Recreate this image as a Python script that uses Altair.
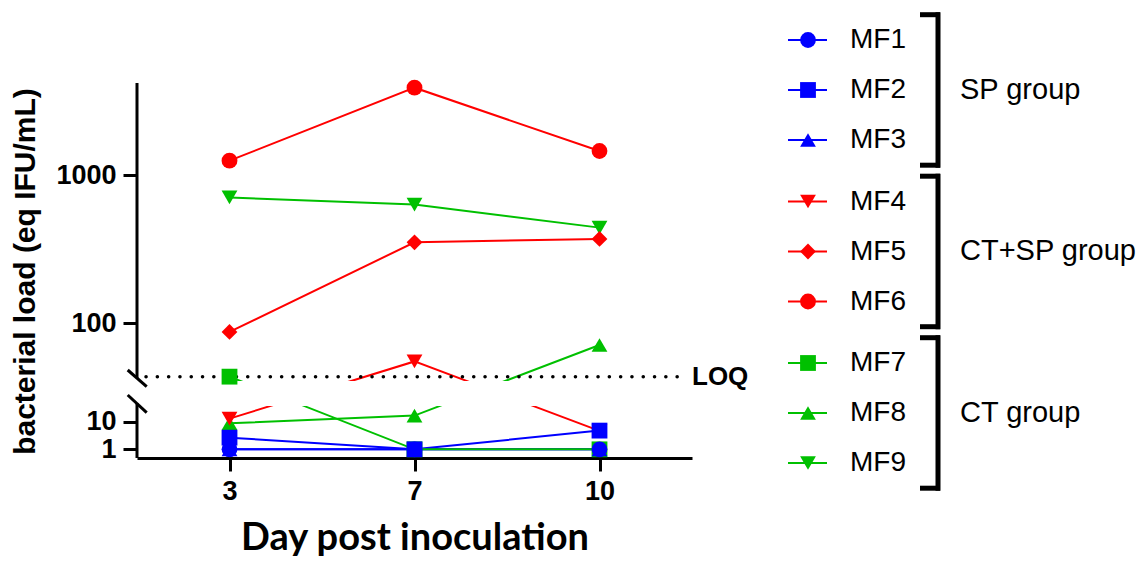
import altair as alt
import pandas as pd

# ---------------- data ----------------
series = ["MF1", "MF2", "MF3", "MF4", "MF5", "MF6", "MF7", "MF8", "MF9"]
groups = ["SP group", "CT+SP group", "CT group"]
days = [3, 7, 10]

mf1 = [1, 1, 1]
mf2 = [4.8, 1, 7.1]
mf3 = [1, 1, 1]
mf4 = [11.0, 55.0, 7.0]
mf5 = [87, 351, 370]
mf6 = [1250, 3890, 1452]
mf7 = [43.4, 1, 1]
mf8 = [9.5, 12.0, 71]
mf9 = [705, 631, 441]
values = [mf1, mf2, mf3, mf4, mf5, mf6, mf7, mf8, mf9]

loq_value = 43.4
y_tick_values = [1, 10, 100, 1000]

# ---------------- styles ----------------
colors = ["#0000FF", "#0000FF", "#0000FF", "#FF0000", "#FF0000", "#FF0000",
          "#00C000", "#00C000", "#00C000"]
shapes = ["circle", "square", "triangle-up", "triangle-down", "diamond", "circle",
          "square", "triangle-up", "triangle-down"]
sizes = [250, 250, 280, 360, 220, 350, 340, 380, 380]

FONT = "Liberation Sans"
TITLE_FONT = "Lato"
W, H = 555, 444

# broken axis: lower linear segment, upper log segment (pixel units from bottom)
def seg_expr(f):
    return (f"datum.{f} >= 25 ? 135 + 148 * (log(datum.{f}) / LN10 - 2) "
            f": 5.6 + 3.07 * datum.{f}")

def seg_py(v):
    import math
    return 135 + 148 * (math.log10(v) - 2) if v >= 25 else 5.6 + 3.07 * v

tick_pos = [seg_py(v) for v in y_tick_values]
label_expr = ""
for i, (p, v) in enumerate(zip(tick_pos, y_tick_values)):
    if i < len(tick_pos) - 1:
        label_expr += f"datum.value < {(p + tick_pos[i + 1]) / 2:.2f} ? '{v}' : "
    else:
        label_expr += f"'{v}'"

rows = []
for idx, (s, vals) in enumerate(zip(series, values)):
    for d, v in zip(days, vals):
        rows.append({"series": s, "day": d, "v": v, "z": 8 - idx})
main_df = pd.DataFrame(rows)
loq_df = pd.DataFrame({"v": [loq_value], "label": ["LOQ"]})
dummy = pd.DataFrame({"k": [0]})

color_scale = alt.Scale(domain=series, range=colors)
shape_scale = alt.Scale(domain=series, range=shapes)
size_scale = alt.Scale(domain=series, range=sizes)

yscale = alt.Scale(domain=[0, H], nice=False, zero=False)
yaxis = alt.Axis(
    title="bacterial load (eq IFU/mL)", values=tick_pos, labelExpr=label_expr,
    grid=False, domain=False, tickSize=14, tickWidth=3, tickColor="black",
    labelFont=FONT, labelFontSize=27, labelFontWeight="bold", labelColor="black",
    labelPadding=7, labelOverlap=False, labelBound=False,
    titleFont=FONT, titleFontSize=30, titleFontWeight="bold", titleColor="black",
    titleX=-112, titleY=257, titleBaseline="middle", titleAlign="center",
)
xaxis = alt.Axis(
    title="Day post inoculation", labelAngle=0, grid=False,
    domainWidth=3, domainColor="black", tickSize=13, tickWidth=3, tickColor="black",
    labelFont=FONT, labelFontSize=27, labelFontWeight="bold", labelColor="black",
    labelPadding=7, titleFont=TITLE_FONT, titleFontSize=38, titleFontWeight="bold",
    titleColor="black", titlePadding=15,
)
xenc = alt.X("day:O", sort=days, scale=alt.Scale(type="point", padding=0.5), axis=xaxis)
yenc = alt.Y("h:Q", scale=yscale, axis=yaxis)

base = alt.Chart(main_df).transform_calculate(h=seg_expr("v"))

lines = base.mark_line(strokeWidth=2).encode(
    x=xenc, y=yenc,
    color=alt.Color("series:N", scale=color_scale, legend=None),
)
gap = alt.Chart(dummy).mark_rect(color="white").encode(
    x=alt.value(2), x2=alt.value(W), y=alt.value(367), y2=alt.value(392)
)
loq_base = alt.Chart(loq_df).transform_calculate(h=seg_expr("v"))
loq_rule = loq_base.mark_rule(
    color="black", strokeWidth=3.5, strokeDash=[0.1, 11.2], strokeCap="round"
).encode(y=yenc, x=alt.value(9), x2=alt.value(548))
loq_text = loq_base.mark_text(
    align="left", baseline="middle", font=FONT, fontSize=26, fontWeight="bold", color="black"
).encode(y=yenc, x=alt.value(555), text="label:N")

points = base.mark_point(filled=True, opacity=1).encode(
    x=xenc, y=yenc,
    color=alt.Color("series:N", scale=color_scale, legend=None),
    shape=alt.Shape("series:N", scale=shape_scale, legend=None),
    size=alt.Size("series:N", scale=size_scale, legend=None),
    order=alt.Order("z:Q"),
)

# broken y axis line and break marks
ax_upper = alt.Chart(dummy).mark_rule(color="black", strokeWidth=3).encode(
    x=alt.value(0), y=alt.value(69), y2=alt.value(364))
ax_lower = alt.Chart(dummy).mark_rule(color="black", strokeWidth=3).encode(
    x=alt.value(0), y=alt.value(389), y2=alt.value(H))
slash1 = alt.Chart(dummy).mark_rule(color="black", strokeWidth=3).encode(
    x=alt.value(-9.3), x2=alt.value(9.7), y=alt.value(356), y2=alt.value(372.7))
slash2 = alt.Chart(dummy).mark_rule(color="black", strokeWidth=3).encode(
    x=alt.value(-9.3), x2=alt.value(9.7), y=alt.value(381), y2=alt.value(398.7))

main = alt.layer(lines, gap, loq_rule, loq_text, points, ax_upper, ax_lower, slash1, slash2)

# ---------------- custom legend ----------------
leg_df = pd.DataFrame({"series": series,
                       "g": [k // 3 for k in range(len(series))],
                       "i": [k % 3 for k in range(len(series))]})
grp_df = pd.DataFrame({"group": groups, "g": list(range(len(groups)))})

lxs = alt.Scale(domain=[0, W], nice=False, zero=False)
lys = alt.Scale(domain=[0, H], nice=False, zero=False, reverse=True)

leg = alt.Chart(leg_df).transform_calculate(
    ly="26 + datum.g * 161.5 + datum.i * 50",
    lx1="651", lx2="690", mx="671", tx="713",
)
leg_lines = leg.mark_rule(strokeWidth=2).encode(
    x=alt.X("lx1:Q", scale=lxs, axis=None), x2="lx2:Q",
    y=alt.Y("ly:Q", scale=lys, axis=None),
    color=alt.Color("series:N", scale=color_scale, legend=None),
)
leg_points = leg.mark_point(filled=True, opacity=1).encode(
    x=alt.X("mx:Q", scale=lxs, axis=None),
    y=alt.Y("ly:Q", scale=lys, axis=None),
    color=alt.Color("series:N", scale=color_scale, legend=None),
    shape=alt.Shape("series:N", scale=shape_scale, legend=None),
    size=alt.Size("series:N", scale=size_scale, legend=None),
)
leg_text = leg.mark_text(align="left", baseline="middle", font=FONT, fontSize=28,
                         color="black").encode(
    x=alt.X("tx:Q", scale=lxs, axis=None),
    y=alt.Y("ly:Q", scale=lys, axis=None),
    text="series:N",
)
grp = alt.Chart(grp_df).transform_calculate(
    top="0.7 + datum.g * 161.5",
).transform_calculate(
    bot="datum.top + 150.5", mid="datum.top + 75.25",
    bx="801", ax1="783", ax2="803", gx="823",
)
br_v = grp.mark_rule(strokeWidth=5, color="black", strokeCap="square").encode(
    x=alt.X("bx:Q", scale=lxs, axis=None),
    y=alt.Y("top:Q", scale=lys, axis=None), y2="bot:Q")
br_t = grp.mark_rule(strokeWidth=5, color="black").encode(
    x=alt.X("ax1:Q", scale=lxs, axis=None), x2="ax2:Q",
    y=alt.Y("top:Q", scale=lys, axis=None))
br_b = grp.mark_rule(strokeWidth=5, color="black").encode(
    x=alt.X("ax1:Q", scale=lxs, axis=None), x2="ax2:Q",
    y=alt.Y("bot:Q", scale=lys, axis=None))
grp_text = grp.mark_text(align="left", baseline="middle", font=FONT, fontSize=29,
                         color="black").encode(
    x=alt.X("gx:Q", scale=lxs, axis=None),
    y=alt.Y("mid:Q", scale=lys, axis=None),
    text="group:N",
)
legend = alt.layer(leg_lines, leg_points, leg_text, br_v, br_t, br_b, grp_text)

chart = alt.layer(main, legend).resolve_scale(
    x="independent", y="independent"
).properties(
    width=W, height=H,
    autosize=alt.AutoSizeParams(type="none"),
    padding={"left": 129, "top": 6, "right": 446, "bottom": 104},
).configure_view(stroke=None)

chart.save("out.html", embed_options={"renderer": "svg", "actions": False})
